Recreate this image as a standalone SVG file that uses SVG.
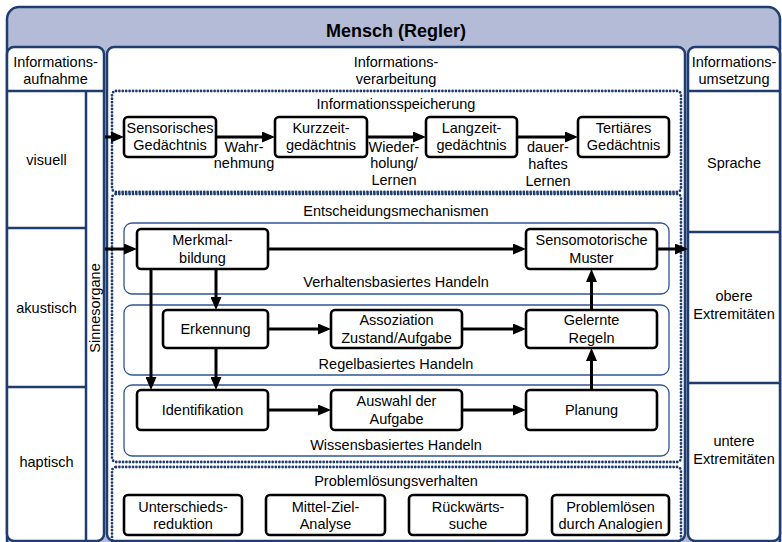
<svg xmlns="http://www.w3.org/2000/svg" width="782" height="542" viewBox="0 0 782 542">
  <style>
    text { font-family: "Liberation Sans", Arial, sans-serif; font-size: 14.5px; fill: #000; text-anchor: middle; }
    .title { font-weight: bold; font-size: 18px; }
    .panel { fill: #fff; stroke: #1f3d6e; stroke-width: 2.5; }
    .rule { stroke: #1f3d6e; stroke-width: 2.5; fill: none; }
    .dotted { fill: none; stroke: #1f3d6e; stroke-width: 2.8; stroke-linecap: round; stroke-dasharray: 0 3.4; }
    .mode { fill: none; stroke: #2f5597; stroke-width: 1.3; }
    .node rect { fill: #fff; stroke: #000; stroke-width: 2.6; }
    .conn { fill: none; stroke: #000; stroke-width: 3; marker-end: url(#arrow); }
  </style>
  <defs>
    <marker id="arrow" viewBox="0 0 13 11" markerWidth="13" markerHeight="11" refX="9" refY="5.5" markerUnits="userSpaceOnUse" orient="auto">
      <path d="M0,0 L13,5.5 L0,11 z" fill="#000"/>
    </marker>
  </defs>

  <!-- outer frame with header band -->
  <rect x="7" y="7" width="773" height="545" rx="12" fill="#b4bbd6" stroke="#1f3d6e" stroke-width="2.5"/>
  <text class="title" x="396" y="37">Mensch (Regler)</text>

  <!-- three column panels -->
  <g id="panel-aufnahme">
    <rect class="panel" x="7" y="47" width="97" height="494" rx="7"/>
    <line class="rule" x1="7" y1="91" x2="104" y2="91"/>
    <line class="rule" x1="86" y1="91" x2="86" y2="541"/>
    <line class="rule" x1="7" y1="228" x2="86" y2="228"/>
    <line class="rule" x1="7" y1="387" x2="86" y2="387"/>
    <text x="55.5" y="67">Informations-</text>
    <text x="55.5" y="84">aufnahme</text>
    <text x="46.5" y="165">visuell</text>
    <text x="46.5" y="313">akustisch</text>
    <text x="46.5" y="467">haptisch</text>
    <text transform="translate(100,308) rotate(-90)" x="0" y="0">Sinnesorgane</text>
  </g>

  <g id="panel-verarbeitung">
    <rect class="panel" x="107" y="47" width="578" height="494" rx="7"/>
    <text x="396" y="67">Informations-</text>
    <text x="396" y="84">verarbeitung</text>
  </g>

  <g id="panel-umsetzung">
    <rect class="panel" x="688" y="47" width="92" height="494" rx="7"/>
    <line class="rule" x1="688" y1="91" x2="780" y2="91"/>
    <line class="rule" x1="688" y1="232" x2="780" y2="232"/>
    <line class="rule" x1="688" y1="383" x2="780" y2="383"/>
    <text x="734" y="67">Informations-</text>
    <text x="734" y="84">umsetzung</text>
    <text x="734" y="168">Sprache</text>
    <text x="734" y="301">obere</text>
    <text x="734" y="319">Extremitäten</text>
    <text x="734" y="446">untere</text>
    <text x="734" y="464">Extremitäten</text>
  </g>

  <!-- grouped sections -->
  <g id="informationsspeicherung">
    <rect class="dotted" x="112" y="91" width="569" height="101" rx="4"/>
    <text x="396" y="109">Informationsspeicherung</text>
  </g>
  <g id="entscheidungsmechanismen">
    <rect class="dotted" x="112" y="194" width="569" height="268" rx="4"/>
    <text x="396" y="216">Entscheidungsmechanismen</text>
    <rect class="mode" x="124" y="223" width="545" height="71" rx="8"/>
    <text x="396" y="287">Verhaltensbasiertes Handeln</text>
    <rect class="mode" x="124" y="305" width="545" height="70" rx="8"/>
    <text x="396" y="369">Regelbasiertes Handeln</text>
    <rect class="mode" x="124" y="385" width="545" height="71" rx="8"/>
    <text x="396" y="450">Wissensbasiertes Handeln</text>
  </g>
  <g id="problemloesungsverhalten">
    <rect class="dotted" x="112" y="467" width="569" height="76" rx="4"/>
    <text x="396" y="486">Problemlösungsverhalten</text>
  </g>

  <!-- memory chain -->
  <g id="sensorisches-gedaechtnis" class="node">
    <rect x="124" y="117" width="92" height="40" rx="4"/>
    <text x="170" y="133">Sensorisches</text>
    <text x="170" y="150">Gedächtnis</text>
  </g>
  <g id="kurzzeitgedaechtnis" class="node">
    <rect x="275" y="117" width="92" height="40" rx="4"/>
    <text x="321" y="133">Kurzzeit-</text>
    <text x="321" y="150">gedächtnis</text>
  </g>
  <g id="langzeitgedaechtnis" class="node">
    <rect x="426" y="117" width="91" height="40" rx="4"/>
    <text x="471.5" y="133">Langzeit-</text>
    <text x="471.5" y="150">gedächtnis</text>
  </g>
  <g id="tertiaeres-gedaechtnis" class="node">
    <rect x="578" y="117" width="91" height="40" rx="4"/>
    <text x="623.5" y="133">Tertiäres</text>
    <text x="623.5" y="150">Gedächtnis</text>
  </g>

  <!-- decision mechanisms -->
  <g id="merkmalbildung" class="node">
    <rect x="137" y="229" width="131" height="40" rx="4"/>
    <text x="202.5" y="245">Merkmal-</text>
    <text x="202.5" y="263">bildung</text>
  </g>
  <g id="sensomotorische-muster" class="node">
    <rect x="526" y="229" width="131" height="40" rx="4"/>
    <text x="591.5" y="245">Sensomotorische</text>
    <text x="591.5" y="263">Muster</text>
  </g>
  <g id="erkennung" class="node">
    <rect x="163" y="310" width="105" height="38" rx="4"/>
    <text x="215.5" y="334">Erkennung</text>
  </g>
  <g id="assoziation" class="node">
    <rect x="331" y="310" width="131" height="38" rx="4"/>
    <text x="396.5" y="325">Assoziation</text>
    <text x="396.5" y="343">Zustand/Aufgabe</text>
  </g>
  <g id="gelernte-regeln" class="node">
    <rect x="526" y="310" width="131" height="38" rx="4"/>
    <text x="591.5" y="325">Gelernte</text>
    <text x="591.5" y="343">Regeln</text>
  </g>
  <g id="identifikation" class="node">
    <rect x="137" y="390" width="131" height="40" rx="4"/>
    <text x="202.5" y="415">Identifikation</text>
  </g>
  <g id="auswahl-der-aufgabe" class="node">
    <rect x="331" y="390" width="131" height="40" rx="4"/>
    <text x="396.5" y="406">Auswahl der</text>
    <text x="396.5" y="424">Aufgabe</text>
  </g>
  <g id="planung" class="node">
    <rect x="526" y="390" width="131" height="40" rx="4"/>
    <text x="591.5" y="415">Planung</text>
  </g>

  <!-- problem solving strategies -->
  <g id="unterschiedsreduktion" class="node">
    <rect x="124" y="495" width="118" height="40" rx="4"/>
    <text x="183" y="512">Unterschieds-</text>
    <text x="183" y="529">reduktion</text>
  </g>
  <g id="mittel-ziel-analyse" class="node">
    <rect x="266" y="495" width="119" height="40" rx="4"/>
    <text x="325.5" y="512">Mittel-Ziel-</text>
    <text x="325.5" y="529">Analyse</text>
  </g>
  <g id="rueckwaertssuche" class="node">
    <rect x="409" y="495" width="118" height="40" rx="4"/>
    <text x="468" y="512">Rückwärts-</text>
    <text x="468" y="529">suche</text>
  </g>
  <g id="analogien" class="node">
    <rect x="552" y="495" width="117" height="40" rx="4"/>
    <text x="610.5" y="512">Problemlösen</text>
    <text x="610.5" y="529">durch Analogien</text>
  </g>

  <!-- connectors -->
  <g id="connectors">
    <line class="conn" x1="105" y1="137" x2="120" y2="137"/>
    <line class="conn" x1="216" y1="137" x2="271" y2="137"/>
    <line class="conn" x1="367" y1="137" x2="422" y2="137"/>
    <line class="conn" x1="517" y1="137" x2="574" y2="137"/>
    <line class="conn" x1="105" y1="249" x2="133" y2="249"/>
    <line class="conn" x1="268" y1="249" x2="522" y2="249"/>
    <line class="conn" x1="657" y1="249" x2="684" y2="249"/>
    <line class="conn" x1="216" y1="269" x2="216" y2="306"/>
    <line class="conn" x1="151" y1="268" x2="151" y2="386"/>
    <line class="conn" x1="216" y1="348" x2="216" y2="386"/>
    <line class="conn" x1="268" y1="329" x2="327" y2="329"/>
    <line class="conn" x1="462" y1="329" x2="522" y2="329"/>
    <line class="conn" x1="591.5" y1="310" x2="591.5" y2="273"/>
    <line class="conn" x1="268" y1="410" x2="327" y2="410"/>
    <line class="conn" x1="462" y1="410" x2="522" y2="410"/>
    <line class="conn" x1="591.5" y1="390" x2="591.5" y2="352"/>
  </g>
  <!-- edge labels -->
  <g id="edge-labels">
    <text x="244" y="152">Wahr-</text>
    <text x="244" y="168">nehmung</text>
    <text x="394" y="152">Wieder-</text>
    <text x="394" y="168">holung/</text>
    <text x="394" y="185">Lernen</text>
    <text x="548" y="152">dauer-</text>
    <text x="548" y="169">haftes</text>
    <text x="548" y="186">Lernen</text>
  </g>
</svg>
